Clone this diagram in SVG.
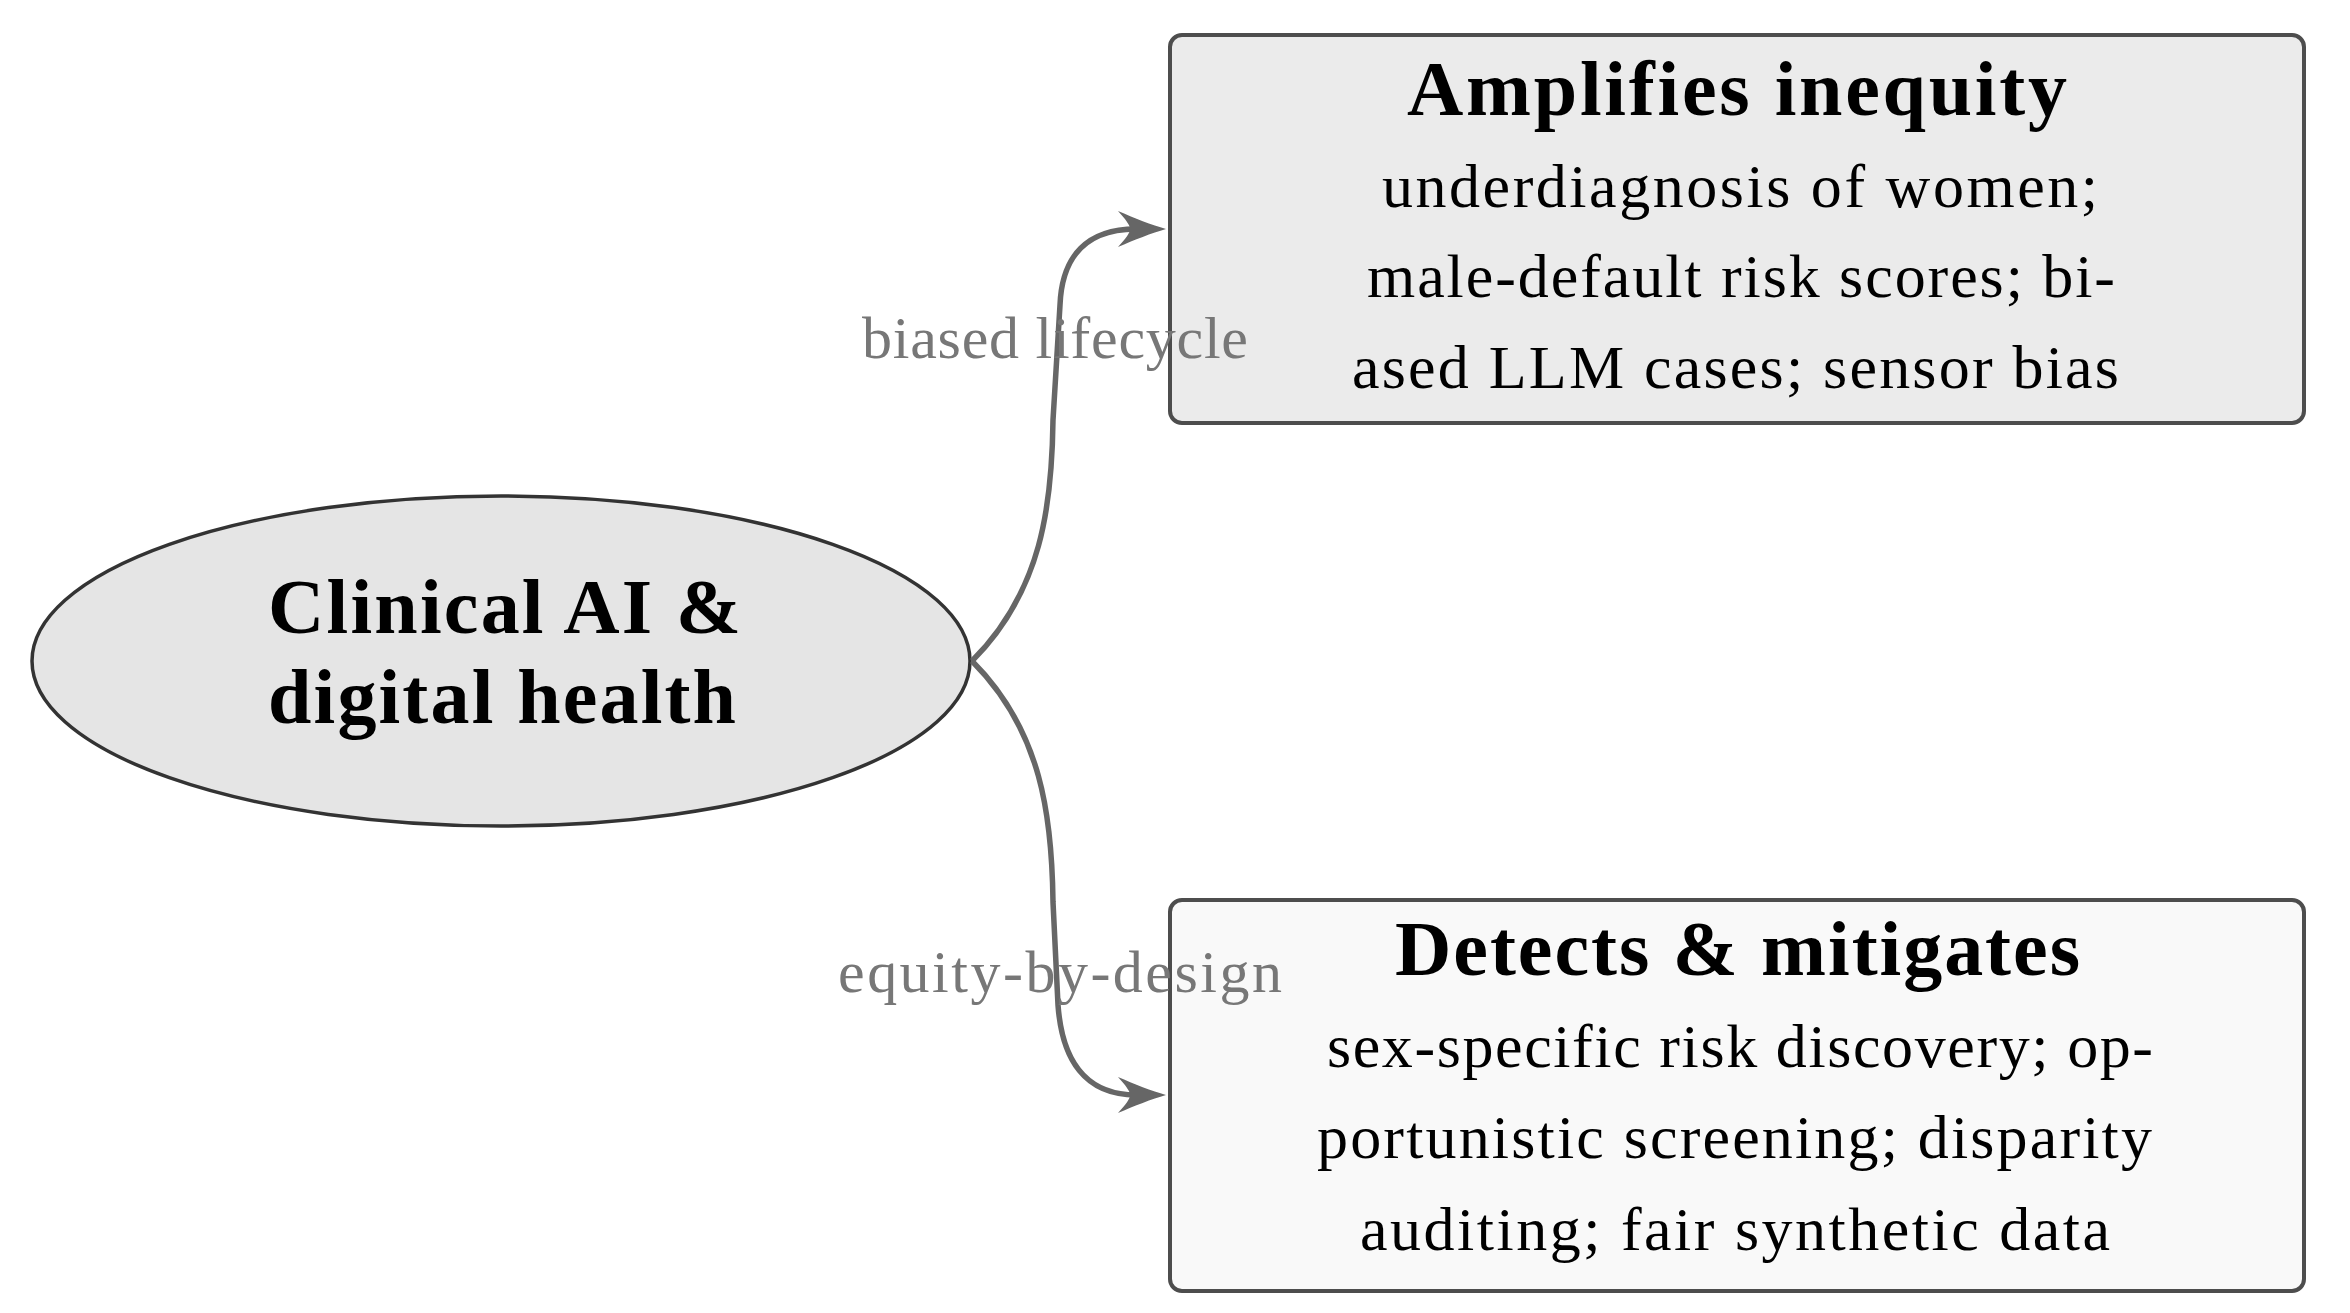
<svg xmlns="http://www.w3.org/2000/svg" width="2350" height="1313" viewBox="0 0 2350 1313">
  <style>
    .bg { fill: #ffffff; }
    .ell { fill: #e5e5e5; stroke: #333333; stroke-width: 3.5; }
    .box { stroke: #4d4d4d; stroke-width: 4; }
    .amp { fill: #ebebeb; }
    .det { fill: #f9f9f9; }
    .title { font-family: "Liberation Serif", "Times New Roman", serif; font-weight: bold; font-size: 78px; fill: #000000; }
    .body { font-family: "Liberation Serif", "Times New Roman", serif; font-size: 62px; fill: #000000; }
    .edge { fill: none; stroke: #666666; stroke-width: 5.5; stroke-linecap: butt; stroke-linejoin: round; }
    .elabel { font-family: "Liberation Serif", "Times New Roman", serif; font-size: 60px; fill: #777777; }
  </style>
  <defs>
    <marker id="stealth" markerUnits="userSpaceOnUse" viewBox="-14 -20 52 40" markerWidth="52" markerHeight="40" refX="6" refY="0" orient="auto" overflow="visible">
      <path d="M36,0 C22,-4 4,-11 -12,-18 C-4,-9 0,-4 0,0 C0,4 -4,9 -12,18 C4,11 22,4 36,0 Z" fill="#666666"/>
    </marker>
  </defs>
  <rect class="bg" x="0" y="0" width="2350" height="1313"/>

  <g id="node-clinical">
    <ellipse class="ell" cx="501" cy="661" rx="469" ry="165"/>
    <text class="title" x="268" y="633" textLength="473" lengthAdjust="spacing">Clinical AI &amp;</text>
    <text class="title" x="268" y="723" textLength="468" lengthAdjust="spacing">digital health</text>
  </g>

  <g id="node-amplifies">
    <rect class="box amp" x="1170" y="35" width="1134" height="388" rx="12" ry="12"/>
    <text class="title" x="1407" y="115" textLength="660" lengthAdjust="spacing">Amplifies inequity</text>
    <text class="body" x="1382" y="207" textLength="716" lengthAdjust="spacing">underdiagnosis of women;</text>
    <text class="body" x="1367" y="297" textLength="748" lengthAdjust="spacing">male-default risk scores; bi-</text>
    <text class="body" x="1352" y="388" textLength="767" lengthAdjust="spacing">ased LLM cases; sensor bias</text>
  </g>

  <g id="node-detects">
    <rect class="box det" x="1170" y="900" width="1134" height="391" rx="12" ry="12"/>
    <text class="title" x="1395" y="975" textLength="685" lengthAdjust="spacing">Detects &amp; mitigates</text>
    <text class="body" x="1327" y="1067" textLength="826" lengthAdjust="spacing">sex-specific risk discovery; op-</text>
    <text class="body" x="1317" y="1158" textLength="835" lengthAdjust="spacing">portunistic screening; disparity</text>
    <text class="body" x="1360" y="1250" textLength="750" lengthAdjust="spacing">auditing; fair synthetic data</text>
  </g>

  <g id="connectors">
    <path class="edge" marker-end="url(#stealth)" d="M972,661 C1042,591 1052,505 1053,420 L1060,305 C1062,255 1088,229 1136,229"/>
    <path class="edge" marker-end="url(#stealth)" d="M972,661 C1042,731 1052,817 1053,902 L1058,1005 C1062,1060 1085,1095 1136,1095"/>
    <text class="elabel" x="862" y="358" textLength="386" lengthAdjust="spacing">biased lifecycle</text>
    <text class="elabel" x="838" y="992" textLength="444" lengthAdjust="spacing">equity-by-design</text>
  </g>
</svg>
